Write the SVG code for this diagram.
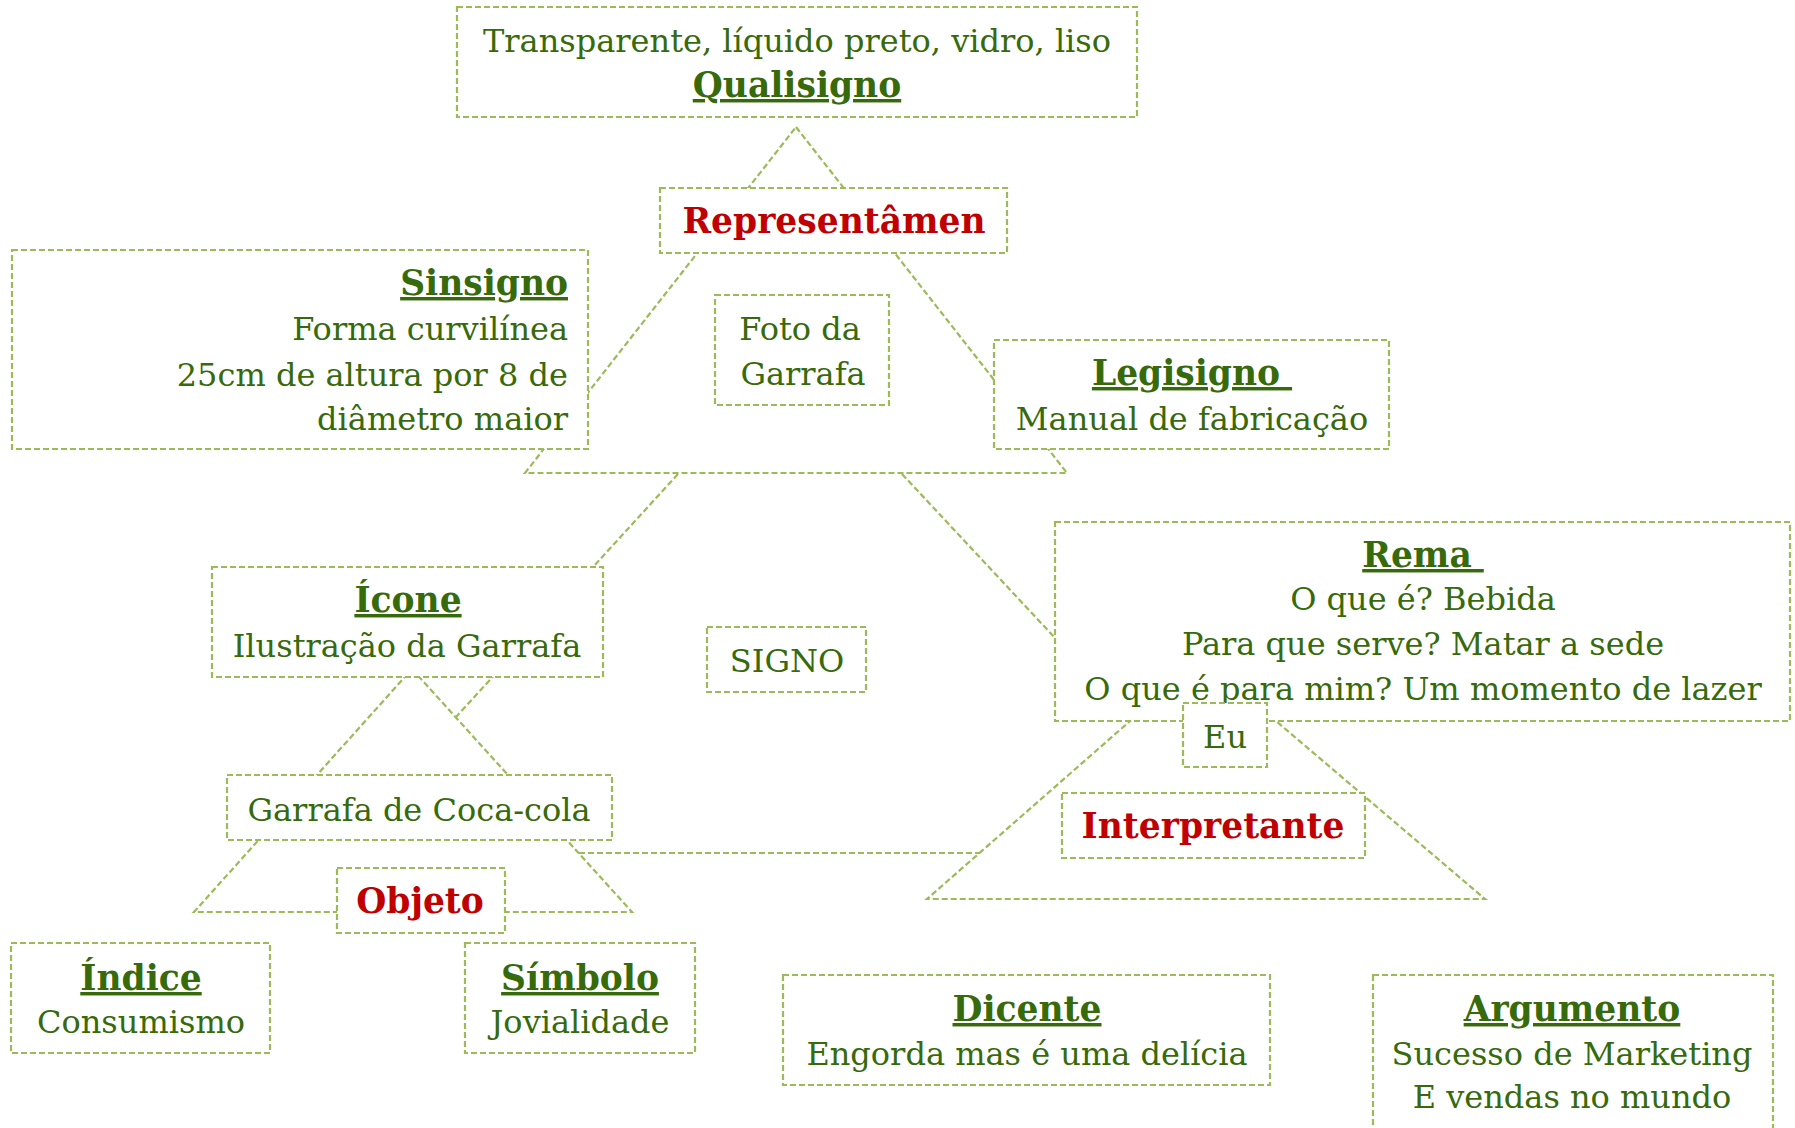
<svg xmlns="http://www.w3.org/2000/svg" width="1795" height="1128" viewBox="0 0 1795 1128">
<style>
.ln{fill:none;stroke:#9BBB59;stroke-width:2.2;stroke-dasharray:6 3}
.bx{fill:#fff;stroke:#9BBB59;stroke-width:2.2;stroke-dasharray:6 3}
text{font-family:"DejaVu Serif","Liberation Serif",serif;font-size:32px;fill:#376A0B;text-anchor:middle}
.h{font-weight:bold;text-decoration:underline;white-space:pre;font-size:34.5px}
.r{font-weight:bold;fill:#C00000;font-size:34.5px}
.e{text-anchor:end}
</style>
<rect width="1795" height="1128" fill="#fff"/>
<g id="connectors">
<polygon class="ln" points="796,127 1067,473 525,473"/>
<line class="ln" x1="678" y1="474" x2="456" y2="717"/>
<line class="ln" x1="902" y1="474" x2="1056" y2="639"/>
<polygon class="ln" points="412,669 632,912 194,912"/>
<line class="ln" x1="579" y1="853" x2="980" y2="853"/>
<polygon class="ln" points="1202,658 1485,899 927,899"/>
</g>
<g id="qualisigno">
<rect class="bx" x="457" y="7" width="680" height="110"/>
<text x="797" y="52">Transparente, líquido preto, vidro, liso</text>
<text class="h" x="797" y="97">Qualisigno</text>
</g>
<g id="representamen">
<rect class="bx" x="660" y="188" width="347" height="65"/>
<text class="r" x="834" y="233">Representâmen</text>
</g>
<g id="sinsigno">
<rect class="bx" x="12" y="250" width="576" height="199"/>
<text class="h e" x="568" y="295">Sinsigno</text>
<text class="e" x="568" y="340">Forma curvilínea</text>
<text class="e" x="568" y="386">25cm de altura por 8 de</text>
<text class="e" x="568" y="430">diâmetro maior</text>
</g>
<g id="foto">
<rect class="bx" x="715" y="295" width="174" height="110"/>
<text x="800" y="340">Foto da</text>
<text x="803" y="385">Garrafa</text>
</g>
<g id="legisigno">
<rect class="bx" x="994" y="340" width="395" height="109"/>
<text class="h" x="1192" y="385">Legisigno </text>
<text x="1192" y="430">Manual de fabricação</text>
</g>
<g id="icone">
<rect class="bx" x="212" y="567" width="391" height="110"/>
<text class="h" x="408" y="612">Ícone</text>
<text x="407" y="657">Ilustração da Garrafa</text>
</g>
<g id="signo">
<rect class="bx" x="707" y="627" width="159" height="65"/>
<text x="787" y="672">SIGNO</text>
</g>
<g id="rema">
<rect class="bx" x="1055" y="522" width="735" height="199"/>
<text class="h" x="1423" y="567">Rema </text>
<text x="1423" y="610">O que é? Bebida</text>
<text x="1423" y="655">Para que serve? Matar a sede</text>
<text x="1423" y="700">O que é para mim? Um momento de lazer</text>
</g>
<g id="eu">
<rect class="bx" x="1183" y="703" width="84" height="64"/>
<text x="1225" y="748">Eu</text>
</g>
<g id="garrafa">
<rect class="bx" x="227" y="775" width="385" height="65"/>
<text x="419" y="821">Garrafa de Coca-cola</text>
</g>
<g id="interpretante">
<rect class="bx" x="1062" y="793" width="303" height="65"/>
<text class="r" x="1213" y="838">Interpretante</text>
</g>
<g id="objeto">
<rect class="bx" x="337" y="868" width="168" height="65"/>
<text class="r" x="420" y="913">Objeto</text>
</g>
<g id="indice">
<rect class="bx" x="11" y="943" width="259" height="110"/>
<text class="h" x="141" y="990">Índice</text>
<text x="141" y="1033">Consumismo</text>
</g>
<g id="simbolo">
<rect class="bx" x="465" y="943" width="230" height="110"/>
<text class="h" x="580" y="990">Símbolo</text>
<text x="580" y="1033">Jovialidade</text>
</g>
<g id="dicente">
<rect class="bx" x="783" y="975" width="487" height="110"/>
<text class="h" x="1027" y="1021">Dicente</text>
<text x="1027" y="1065">Engorda mas é uma delícia</text>
</g>
<g id="argumento">
<rect class="bx" x="1373" y="975" width="400" height="170"/>
<text class="h" x="1572" y="1021">Argumento</text>
<text x="1572" y="1065">Sucesso de Marketing</text>
<text x="1572" y="1108">E vendas no mundo</text>
</g>
</svg>
